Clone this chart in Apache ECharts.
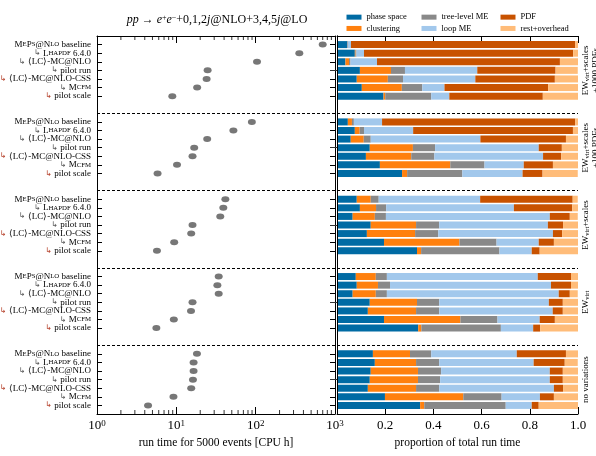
<!DOCTYPE html>
<html>
<head>
<meta charset="utf-8">
<script src="https://cdn.jsdelivr.net/npm/echarts@6/dist/echarts.min.js"></script>
<style>
html, body { margin: 0; padding: 0; background: #fff; }
#chart { width: 596px; height: 456px; }
</style>
</head>
<body>
<div id="chart"></div>
<script>
// 行标签 / 分组
var rowLabels = ['MEPS@NLO baseline', 'LHAPDF 6.4.0', '⟨LC⟩-MC@NLO', 'pilot run', '⟨LC⟩-MC@NLO-CSS', 'MCFM', 'pilot scale']
var rowArrow = ['', 'dark', 'dark', 'dark', 'red', 'dark', 'red']
var groupLabels = ['EW_{virt}+scales\n+1000 PDFs', 'EW_{virt}+scales\n+100 PDFs', 'EW_{virt}+scales', 'EW_{virt}', 'no variations']
var partNames = ['phase space', 'clustering', 'tree-level ME', 'loop ME', 'PDF', 'rest+overhead']
var partColors = ['#006BA4', '#FF800E', '#898989', '#A2C8EC', '#C85200', '#FFBC79']

// run time [CPU h], one list per group
var runTime = [
  [700, 355, 104, 24.8, 24.1, 18.3, 8.9],
  [89.5, 52.4, 24.5, 16.8, 16.0, 10.2, 5.8],
  [41.5, 39.1, 35.8, 16.0, 15.4, 9.4, 5.7],
  [34.2, 32.9, 34.2, 16.0, 15.3, 9.3, 5.6],
  [18.2, 16.5, 16.5, 16.2, 15.4, 9.2, 4.4],
]

// proportions
var phaseSpace = [
  [0.042, 0.074, 0.035, 0.095, 0.082, 0.103, 0.193],
  [0.045, 0.074, 0.057, 0.136, 0.120, 0.178, 0.270],
  [0.082, 0.095, 0.065, 0.140, 0.124, 0.195, 0.332],
  [0.078, 0.082, 0.065, 0.136, 0.128, 0.195, 0.337],
  [0.149, 0.157, 0.140, 0.136, 0.128, 0.199, 0.345],
]
var clustering = [
  [0.000, 0.003, 0.015, 0.129, 0.129, 0.166, 0.007],
  [0.017, 0.020, 0.054, 0.179, 0.188, 0.292, 0.021],
  [0.058, 0.067, 0.092, 0.188, 0.200, 0.313, 0.017],
  [0.083, 0.088, 0.096, 0.196, 0.200, 0.317, 0.013],
  [0.154, 0.171, 0.196, 0.200, 0.200, 0.325, 0.017],
]
var treeME = [
  [0.003, 0.004, 0.006, 0.058, 0.063, 0.085, 0.191],
  [0.008, 0.018, 0.029, 0.092, 0.096, 0.142, 0.229],
  [0.033, 0.042, 0.046, 0.096, 0.096, 0.154, 0.325],
  [0.046, 0.050, 0.046, 0.092, 0.096, 0.154, 0.330],
  [0.088, 0.096, 0.096, 0.092, 0.096, 0.159, 0.338],
]
var loopME = [
  [0.013, 0.031, 0.110, 0.300, 0.300, 0.092, 0.075],
  [0.117, 0.204, 0.455, 0.430, 0.451, 0.163, 0.250],
  [0.421, 0.530, 0.680, 0.451, 0.476, 0.175, 0.134],
  [0.626, 0.668, 0.713, 0.455, 0.471, 0.175, 0.134],
  [0.355, 0.392, 0.451, 0.455, 0.476, 0.159, 0.108],
]
var pdf = [
  [0.930, 0.868, 0.759, 0.325, 0.330, 0.430, 0.388],
  [0.801, 0.663, 0.355, 0.096, 0.075, 0.121, 0.083],
  [0.384, 0.242, 0.083, 0.063, 0.038, 0.063, 0.033],
  [0.138, 0.083, 0.046, 0.058, 0.042, 0.063, 0.029],
  [0.204, 0.129, 0.054, 0.054, 0.038, 0.058, 0.029],
]
var rest = [
  [0.013, 0.021, 0.075, 0.092, 0.096, 0.125, 0.146],
  [0.013, 0.021, 0.050, 0.067, 0.071, 0.104, 0.146],
  [0.021, 0.025, 0.033, 0.063, 0.067, 0.100, 0.159],
  [0.029, 0.029, 0.033, 0.063, 0.063, 0.096, 0.159],
  [0.050, 0.054, 0.063, 0.063, 0.063, 0.100, 0.163],
]
var parts = [phaseSpace, clustering, treeME, loopME, pdf, rest]

var SERIF = 'Liberation Serif'

// every group takes 9 slots: blank, 7 rows, blank
var slotCount = groupLabels.length * 9
var slots = []
for (var i = 0; i < slotCount; i++) slots.push('s' + i)
function rowOfSlot(i) {
  var r = (i % 9) - 1
  return r >= 0 && r < rowLabels.length ? r : -1
}
function slotData(arr) {
  return slots.map(function (s, i) {
    var r = rowOfSlot(i)
    return r < 0 ? '-' : arr[Math.floor(i / 9)][r]
  })
}

// small caps words
var scMap = {
  'MEPS@NLO': '{t|M}{s|E}{t|P}{s|S}{t|@N}{s|LO}',
  LHAPDF: '{t|L}{s|HAPDF}',
  MCFM: '{t|M}{s|CFM}',
}
function rowRich(r) {
  var txt = rowLabels[r]
  var out = ''
  txt.split(' ').forEach(function (w, k) {
    if (k > 0) out += '{t| }'
    out += scMap[w] || '{t|' + w + '}'
  })
  if (rowArrow[r] === 'red') out = '{r|↳ }' + out
  else if (rowArrow[r]) out = '{a|↳ }' + out
  return out
}

var scatterData = []
runTime.forEach(function (g, gi) {
  g.forEach(function (v, r) {
    scatterData.push([v, gi * 9 + r + 1])
  })
})

// log minor ticks
var minorTicks = []
;[1, 10, 100].forEach(function (d) {
  for (var k = 2; k <= 9; k++) minorTicks.push(k * d)
})

var chart = echarts.init(document.getElementById('chart'))

function catAxis(grid, pos, extra) {
  var o = {
    type: 'category',
    gridIndex: grid,
    position: pos,
    data: slots,
    inverse: true,
    boundaryGap: false,
    axisLine: { show: true, lineStyle: { color: '#000', width: 1 } },
    axisTick: {
      show: true,
      inside: true,
      length: 5,
      interval: function (i) { return rowOfSlot(i) >= 0 },
      lineStyle: { color: '#000' },
    },
    axisLabel: { show: false },
    splitLine: { show: false },
  }
  for (var k in extra) o[k] = extra[k]
  return o
}

function dashAxis(grid) {
  return {
    type: 'value',
    gridIndex: grid,
    position: 'left',
    inverse: true,
    min: 0.5,
    max: slotCount - 0.5,
    interval: 9,
    axisLine: { show: false },
    axisTick: { show: false },
    axisLabel: { show: false },
    splitLine: { show: true, lineStyle: { color: '#000', type: [3, 2], width: 1 } },
  }
}

function legendCol(names, left) {
  return {
    data: names,
    left: left,
    top: 11.5,
    orient: 'vertical',
    icon: 'rect',
    itemWidth: 15,
    itemHeight: 5,
    itemGap: 0,
    padding: 0,
    selectedMode: false,
    textStyle: { fontFamily: SERIF, fontSize: 8.5, color: '#000', lineHeight: 11.3 },
  }
}

var tickFont = {
  fontFamily: SERIF,
  fontSize: 13,
  color: '#000',
}

option = {
  animation: false,
  backgroundColor: '#fff',
  title: {
    text: '{i|pp} → {i|e}{u|+}{i|e}{u|−}+0,1,2{i|j}@NLO+3,4,5{i|j}@LO',
    left: 217,
    top: 14,
    textAlign: 'center',
    padding: 0,
    textStyle: {
      fontFamily: SERIF,
      fontSize: 12,
      fontWeight: 'normal',
      color: '#000',
      rich: {
        i: { fontFamily: SERIF, fontSize: 12, fontStyle: 'italic', color: '#000' },
        u: { fontFamily: SERIF, fontSize: 8, verticalAlign: 'top', color: '#000' },
      },
    },
  },
  legend: [
    legendCol(['phase space', 'clustering'], 346.5),
    legendCol(['tree-level ME', 'loop ME'], 421.5),
    legendCol(['PDF', 'rest+overhead'], 500.5),
  ],
  grid: [
    { left: 97, top: 36, width: 238, height: 378, outerBoundsMode: 'none' },
    { left: 337, top: 36, width: 241, height: 378, outerBoundsMode: 'none' },
  ],
  xAxis: [
    {
      type: 'log',
      gridIndex: 0,
      position: 'bottom',
      logBase: 10,
      min: 1,
      max: 1000,
      name: 'run time for 5000 events [CPU h]',
      nameLocation: 'middle',
      nameGap: 23,
      nameTextStyle: { fontFamily: SERIF, fontSize: 11.5, color: '#000' },
      axisLine: { show: true, lineStyle: { color: '#000' } },
      axisTick: { show: true, inside: true, length: 7, lineStyle: { color: '#000' } },
      axisLabel: {
        margin: 5,
        formatter: function (v) {
          return '{b|10}{e|' + Math.round(Math.log10(v)) + '}'
        },
        rich: {
          b: tickFont,
          e: { fontFamily: SERIF, fontSize: 9, color: '#000', verticalAlign: 'top' },
        },
      },
      splitLine: { show: false },
    },
    {
      type: 'log',
      gridIndex: 0,
      position: 'top',
      logBase: 10,
      min: 1,
      max: 1000,
      axisLine: { show: true, lineStyle: { color: '#000' } },
      axisTick: { show: true, inside: true, length: 7, lineStyle: { color: '#000' } },
      axisLabel: { show: false },
      splitLine: { show: false },
    },
    {
      type: 'value',
      gridIndex: 1,
      position: 'bottom',
      min: 0,
      max: 1,
      interval: 0.2,
      name: 'proportion of total run time',
      nameLocation: 'middle',
      nameGap: 23,
      nameTextStyle: { fontFamily: SERIF, fontSize: 11.5, color: '#000' },
      axisLine: { show: true, lineStyle: { color: '#000' } },
      axisTick: { show: true, inside: true, length: 7, lineStyle: { color: '#000' } },
      axisLabel: {
        margin: 5,
        fontFamily: SERIF,
        fontSize: 13,
        color: '#000',
        formatter: function (v) { return v === 0 ? '' : v.toFixed(1) },
      },
      splitLine: { show: false },
    },
    {
      type: 'value',
      gridIndex: 1,
      position: 'top',
      min: 0,
      max: 1,
      interval: 0.2,
      axisLine: { show: true, lineStyle: { color: '#000' } },
      axisTick: { show: true, inside: true, length: 7, lineStyle: { color: '#000' } },
      axisLabel: { show: false },
      splitLine: { show: false },
    },
  ],
  yAxis: [
    catAxis(0, 'left', {
      axisLabel: {
        show: true,
        interval: 0,
        margin: 6,
        formatter: function (v, i) {
          var r = rowOfSlot(i)
          return r < 0 ? '' : rowRich(r)
        },
        rich: {
          t: { fontFamily: SERIF, fontSize: 9, color: '#000' },
          s: { fontFamily: SERIF, fontSize: 6.8, color: '#000' },
          a: { fontFamily: 'DejaVu Sans', fontSize: 8, color: '#555' },
          r: { fontFamily: 'DejaVu Sans', fontSize: 8, color: '#b5402a' },
        },
      },
    }),
    catAxis(0, 'right', {}),
    dashAxis(0),
    catAxis(1, 'left', {}),
    catAxis(1, 'right', {
      z: 5,
      axisTick: {
        show: true,
        inside: true,
        length: 7,
        interval: function (i) { return i % 9 === 4 },
        lineStyle: { color: '#333' },
      },
      axisLabel: {
        show: true,
        interval: 0,
        rotate: 90,
        margin: 3,
        formatter: function (v, i) {
          if (i % 9 !== 4) return ''
          var s = groupLabels[Math.floor(i / 9)]
          return '{n|' + s.replace(/_\{(\w+)\}/g, '}{sub|$1}{n|').replace(/\n/g, '}\n{n|') + '}'
        },
        rich: {
          n: { fontFamily: SERIF, fontSize: 9, color: '#000', lineHeight: 10 },
          sub: { fontFamily: SERIF, fontSize: 6.5, color: '#000', verticalAlign: 'bottom', lineHeight: 10 },
        },
      },
    }),
    dashAxis(1),
  ],
  series: [
    {
      name: 'run time',
      type: 'scatter',
      xAxisIndex: 0,
      yAxisIndex: 0,
      symbol: 'circle',
      symbolSize: [8, 6],
      itemStyle: { color: '#555' },
      data: scatterData,
      z: 4,
    },
    {
      name: 'minor top',
      type: 'scatter',
      xAxisIndex: 0,
      yAxisIndex: 0,
      symbol: 'rect',
      symbolSize: [1, 4],
      symbolOffset: [0, 2],
      silent: true,
      itemStyle: { color: '#000' },
      data: minorTicks.map(function (v) { return [v, 0] }),
    },
    {
      name: 'minor bottom',
      type: 'scatter',
      xAxisIndex: 0,
      yAxisIndex: 0,
      symbol: 'rect',
      symbolSize: [1, 4],
      symbolOffset: [0, -2],
      silent: true,
      itemStyle: { color: '#000' },
      data: minorTicks.map(function (v) { return [v, slotCount - 1] }),
    },
  ].concat(
    parts.map(function (p, k) {
      return {
        name: partNames[k],
        type: 'bar',
        stack: 'share',
        xAxisIndex: 2,
        yAxisIndex: 3,
        barWidth: 7,
        itemStyle: { color: partColors[k] },
        data: slotData(p),
      }
    })
  ),
}

chart.setOption(option)

window.addEventListener('resize', function () {
  chart.resize()
})
</script>
</body>
</html>
